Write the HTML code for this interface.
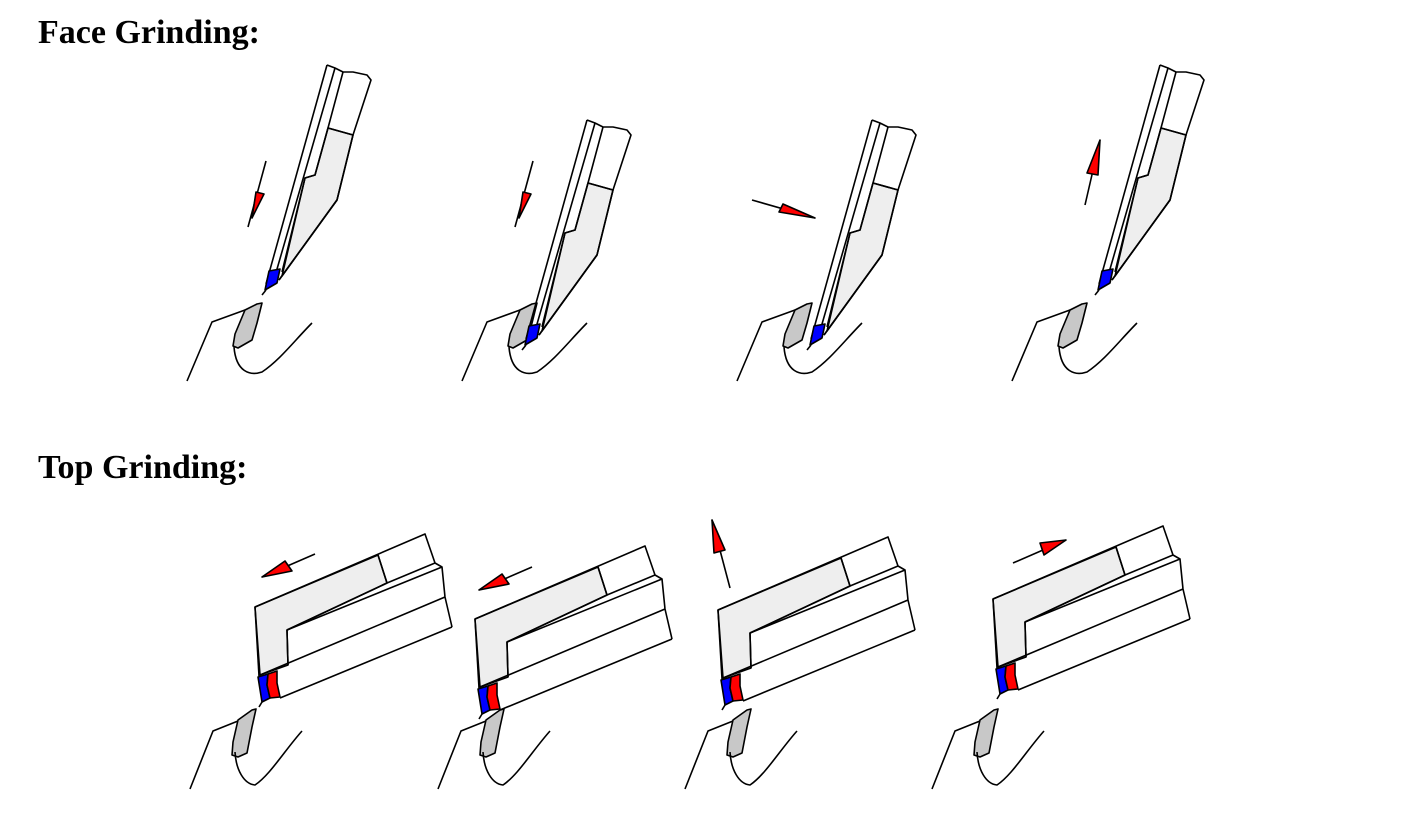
<!DOCTYPE html>
<html><head><meta charset="utf-8"><style>
html,body{margin:0;padding:0;background:#fff;}
svg{display:block;}
text{font-family:"Liberation Serif",serif;font-weight:bold;font-size:34px;fill:#000;}
</style></head><body>
<svg width="1405" height="815" viewBox="0 0 1405 815" xmlns="http://www.w3.org/2000/svg">
<defs>
<g id="ftool" fill="none" stroke="#000" stroke-width="1.6" stroke-linejoin="round">
  <polygon points="328,128 353,135 337,200 282,276 305,178 315,175" fill="#eee" stroke="#000"/>
  <polyline points="327,65 335,68 343,72 353,72 367,75 371,80 353,135 337,200 279,280"/>
  <line x1="327" y1="65" x2="266" y2="284"/>
  <line x1="335" y1="68" x2="275" y2="276"/>
  <polyline points="343,72 328,128 315,175 305,178 282,272"/>
  <line x1="328" y1="128" x2="353" y2="135"/>
  <line x1="337" y1="200" x2="279" y2="280"/>
  <polygon points="269,271 280,269 277,283 265,290" fill="#00f" stroke="#000"/>
  <line x1="266" y1="290" x2="262" y2="295"/>
</g>
<g id="fwork" fill="none" stroke="#000" stroke-width="1.6" stroke-linejoin="round">
  <polygon points="245,310 257,304 262,303 257,323 252,340 238,348 233,346 235,334" fill="#c8c8c8" stroke="#000"/>
  <polyline points="187,381 212,322 245,310"/>
  <path d="M234,347 C236,372 250,376 262,372 C280,360 295,340 312,323"/>
</g>
<g id="ttool" fill="none" stroke="#000" stroke-width="1.6" stroke-linejoin="round">
  <polygon points="255,607 378,555 387,583 287,630 288,665 260,675" fill="#eee" stroke="#000"/>
  <polyline points="255,607 425,534 435,563 442,567 445,597 452,627"/>
  <line x1="255" y1="607" x2="259" y2="676"/>
  <line x1="378" y1="555" x2="387" y2="583"/>
  <line x1="387" y1="583" x2="287" y2="630"/>
  <line x1="287" y1="630" x2="288" y2="665"/>
  <line x1="387" y1="583" x2="435" y2="563"/>
  <line x1="287" y1="630" x2="442" y2="567"/>
  <line x1="260" y1="675" x2="445" y2="597"/>
  <line x1="280" y1="698" x2="452" y2="627"/>
  <polygon points="258,677 268,674 267,685 270,698 262,702" fill="#00f" stroke="#000"/>
  <polygon points="268,674 277,671 277,683 280,697 270,698 267,685" fill="#f00" stroke="#000"/>
  <line x1="262" y1="702" x2="259" y2="707"/>
</g>
<g id="twork" fill="none" stroke="#000" stroke-width="1.6" stroke-linejoin="round">
  <polygon points="238,720 252,710 256,709 252,727 247,753 238,757 232,755 233,742" fill="#c8c8c8" stroke="#000"/>
  <polyline points="190,789 213,731 238,721"/>
  <path d="M235,752 C236,770 244,784 255,785 C270,775 285,750 302,731"/>
</g>
</defs>

<text x="38" y="43">Face Grinding:</text>
<text x="38" y="478">Top Grinding:</text>

<use href="#fwork"/>
<use href="#fwork" transform="translate(275,0)"/>
<use href="#fwork" transform="translate(550,0)"/>
<use href="#fwork" transform="translate(825,0)"/>
<use href="#ftool"/>
<use href="#ftool" transform="translate(260,55)"/>
<use href="#ftool" transform="translate(545,55)"/>
<use href="#ftool" transform="translate(833,0)"/>

<g stroke="#000" stroke-width="1.6" stroke-linejoin="round">
  <line x1="266" y1="161" x2="248" y2="227"/>
  <polygon points="256,192 264,194 252,218" fill="#f00"/>
  <line x1="533" y1="161" x2="515" y2="227"/>
  <polygon points="523,192 531,194 519,218" fill="#f00"/>
  <line x1="752" y1="200" x2="815" y2="218"/>
  <polygon points="783,204 779,212 815,218" fill="#f00"/>
  <line x1="1085" y1="205" x2="1100" y2="140"/>
  <polygon points="1100,140 1087,173 1098,175" fill="#f00"/>
</g>

<use href="#twork"/>
<use href="#twork" transform="translate(248,0)"/>
<use href="#twork" transform="translate(495,0)"/>
<use href="#twork" transform="translate(742,0)"/>
<use href="#ttool"/>
<use href="#ttool" transform="translate(220,12)"/>
<use href="#ttool" transform="translate(463,3)"/>
<use href="#ttool" transform="translate(738,-8)"/>

<g stroke="#000" stroke-width="1.6" stroke-linejoin="round">
  <line x1="315" y1="554" x2="262" y2="577"/>
  <polygon points="285,561 292,571 262,577" fill="#f00"/>
  <line x1="532" y1="567" x2="479" y2="590"/>
  <polygon points="502,574 509,584 479,590" fill="#f00"/>
  <line x1="730" y1="588" x2="712" y2="520"/>
  <polygon points="712,520 714,553 725,550" fill="#f00"/>
  <line x1="1013" y1="563" x2="1066" y2="540"/>
  <polygon points="1066,540 1040,543 1044,555" fill="#f00"/>
</g>
</svg>
</body></html>
